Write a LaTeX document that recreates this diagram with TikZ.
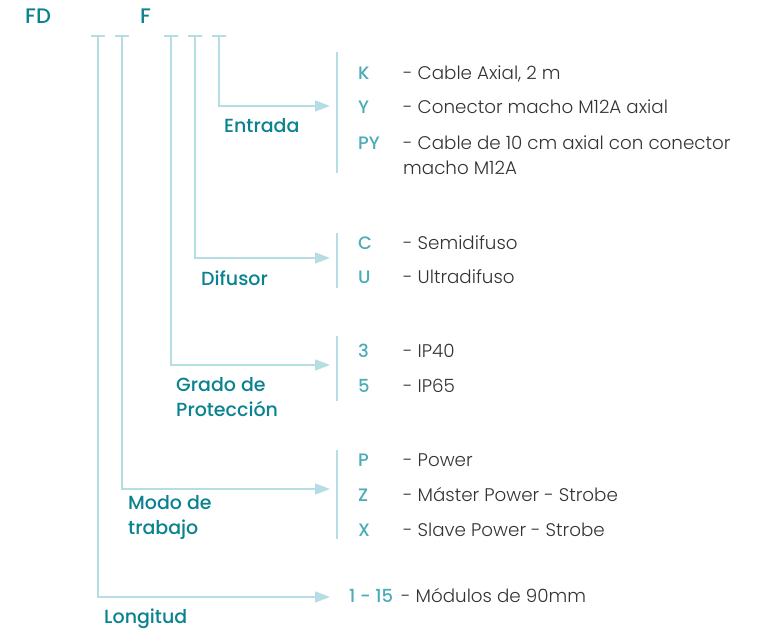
\documentclass[tikz,border=0pt]{standalone}
\usepackage{fontspec}
\setmainfont{Poppins}[UprightFont={* Light},BoldFont={* Medium}]
\usetikzlibrary{arrows.meta}
\definecolor{titulo}{HTML}{0A8290}
\definecolor{codigo}{HTML}{4AACB8}
\definecolor{linea}{HTML}{B5DDE3}
\definecolor{texto}{HTML}{333333}

\begin{document}
\begin{tikzpicture}[x=1pt,y=-1pt,
		conn/.style={draw=linea,line width=1.5pt},
		flecha/.style={conn,-{Triangle[length=15pt,width=11pt]}},
		cat/.style={anchor=base west,inner sep=0pt,text=titulo,font=\fontsize{19}{25.5}\selectfont\bfseries,align=left},
		cod/.style={anchor=base west,inner sep=0pt,text=codigo,font=\fontsize{18}{20}\selectfont\bfseries},
		desc/.style={anchor=base west,inner sep=0pt,text=texto,font=\fontsize{18.3}{25}\selectfont,align=left}]
		\useasboundingbox (0,0) rectangle (758,631);
		% code header
		\node[cat,font=\fontsize{21}{25}\selectfont\bfseries] (fd) at (25,24) {FD};
		\node[cat,font=\fontsize{21}{25}\selectfont\bfseries] (f) at (140,24) {F};
		\coordinate (t1) at (98,36);
		\coordinate (t2) at (122,36);
		\coordinate (t3) at (171,36);
		\coordinate (t4) at (195,36);
		\coordinate (t5) at (219,36);
		\foreach \t in {t1,t2,t3,t4,t5}
			\draw[conn] ([xshift=-7pt]\t) -- ([xshift=7pt]\t);
		% arrow ends
		\coordinate (a5) at (330,106);
		\coordinate (a4) at (330,258);
		\coordinate (a3) at (330,365);
		\coordinate (a2) at (330,489);
		\coordinate (a1) at (330,597);
		\draw[flecha] (t5) |- (a5);
		\draw[flecha] (t4) |- (a4);
		\draw[flecha] (t3) |- (a3);
		\draw[flecha] (t2) |- (a2);
		\draw[flecha] (t1) |- (a1);
		% brackets
		\coordinate (b5) at (337,52);  \coordinate (c5) at (337,173);
		\coordinate (b4) at (337,233); \coordinate (c4) at (337,288);
		\coordinate (b3) at (337,336); \coordinate (c3) at (337,401);
		\coordinate (b2) at (337,450); \coordinate (c2) at (337,539);
		\draw[conn] (b5) -- (c5);
		\draw[conn] (b4) -- (c4);
		\draw[conn] (b3) -- (c3);
		\draw[conn] (b2) -- (c2);
		% labels (base = last line)
		\node[cat] (ent) at (224,133) {Entrada};
		\node[cat] (dif) at (201,285) {Difusor};
		\node[cat] (gra) at (176,416.5) {Grado de\\Protección};
		\node[cat] (mod) at (128,534.5) {Modo de\\trabajo};
		\node[cat] (lon) at (104,623) {Longitud};
		% options
		\node[cod] (k) at (358,80) {K};
		\node[desc] (kd) at (403,80) {- Cable Axial, 2 m};
		\node[cod] (y) at (358,114) {Y};
		\node[desc] (yd) at (403,114) {- Conector macho M12A axial};
		\node[cod] (py) at (358,150) {PY};
		\node[desc] (pyd) at (403,175) {- Cable de 10 cm axial con conector\\macho M12A};
		\node[cod] (c) at (358,249.5) {C};
		\node[desc] (cd) at (403,249.5) {- Semidifuso};
		\node[cod] (u) at (358,283.5) {U};
		\node[desc] (ud) at (403,283.5) {- Ultradifuso};
		\node[cod] (n3) at (358,357.5) {3};
		\node[desc] (n3d) at (403,357.5) {- IP40};
		\node[cod] (n5) at (358,392.5) {5};
		\node[desc] (n5d) at (403,392.5) {- IP65};
		\node[cod] (p) at (358,466.5) {P};
		\node[desc] (pd) at (403,466.5) {- Power};
		\node[cod] (z) at (358,501.5) {Z};
		\node[desc] (zd) at (403,501.5) {- Máster Power - Strobe};
		\node[cod] (x) at (358,536.5) {X};
		\node[desc] (xd) at (403,536.5) {- Slave Power - Strobe};
		\node[cod] (lr) at (349,602.5) {1 - 15};
		\node[desc] (lrd) at (401,602.5) {- Módulos de 90mm};
	\end{tikzpicture}
\end{document}
